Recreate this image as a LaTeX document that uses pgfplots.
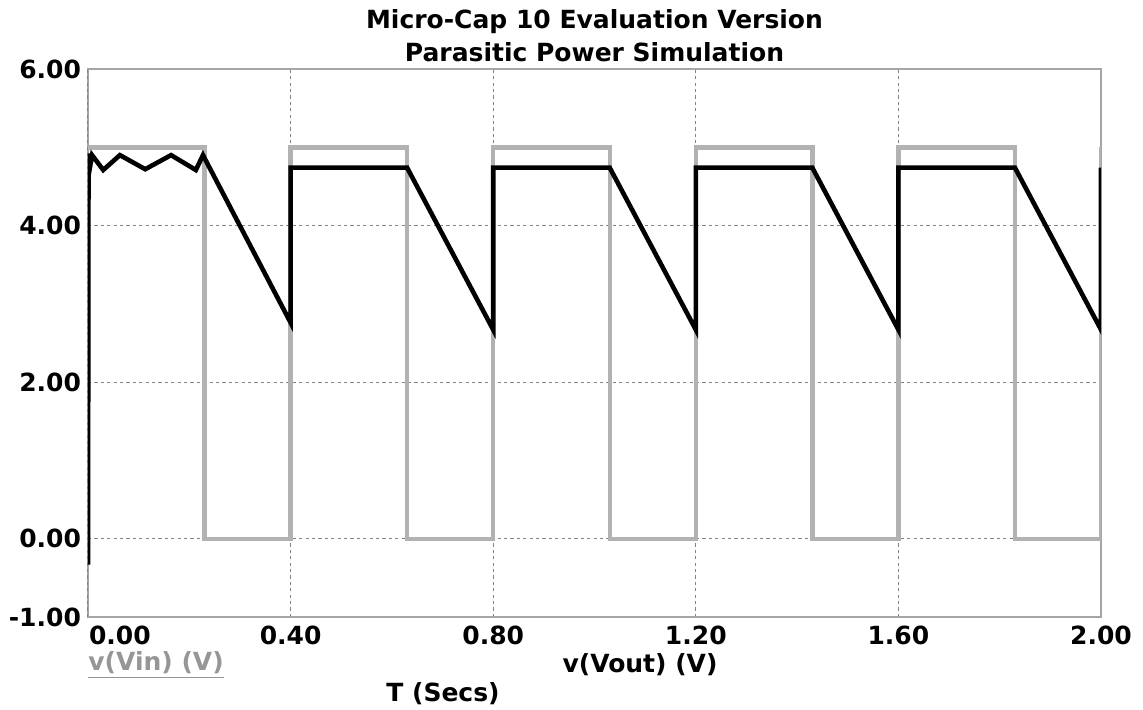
\documentclass[border=0pt]{standalone}
\usepackage{pgfplots}
\pgfplotsset{compat=1.18}
\usepackage{fontspec}
\setmainfont{DejaVu Sans}
\definecolor{vingray}{RGB}{178,178,178}
\definecolor{labgray}{RGB}{150,150,150}
\definecolor{gridgray}{RGB}{130,130,130}
\definecolor{boxgray}{RGB}{165,165,165}
\newcommand{\lblfont}{\fontsize{12.5}{14}\selectfont\bfseries}
\begin{document}
\begin{tikzpicture}
\begin{axis}[
  at={(0,0)}, anchor=south west,
  scale only axis,
  width=506.5pt, height=274pt,
  xmin=0, xmax=2, ymin=-1, ymax=6,
  xtick={0.4,0.8,1.2,1.6,2.0},
  extra x ticks={0},
  extra x tick style={xticklabel style={anchor=north west, xshift=-3pt}},
  ytick={-1,0,2,4,6},
  major tick length=0pt,
  axis line style={boxgray, line width=0.8pt},
  grid=major,
  major grid style={gridgray, dash pattern=on 1.6pt off 1.6pt, line width=0.5pt},
  tick label style={font=\lblfont},
  xticklabel style={yshift=-1pt},
  /pgf/number format/.cd, fixed, fixed zerofill, precision=2, assume math mode=true,
]
% input square wave
\addplot[vingray, line width=2.2pt, line join=miter] coordinates {
  (0,5) (0.23,5) (0.23,0) (0.4,0) (0.4,5) (0.63,5) (0.63,0) (0.8,0)
  (0.8,5) (1.03,5) (1.03,0) (1.2,0) (1.2,5) (1.43,5) (1.43,0) (1.6,0)
  (1.6,5) (1.83,5) (1.83,0) (2.0,0) (2.0,5)
};
% output voltage
\addplot[black, line width=2.3pt, line join=miter] coordinates {
  (0,-0.33) (0.001,4.92) (0.004,4.75) (0.008,4.90) (0.03,4.71)
  (0.063,4.90) (0.113,4.72) (0.164,4.90) (0.213,4.71) (0.227,4.90)
  (0.40,2.76) (0.40,4.74) (0.63,4.74) (0.80,2.67) (0.80,4.74)
  (1.03,4.74) (1.20,2.67) (1.20,4.74) (1.43,4.74) (1.60,2.67)
  (1.60,4.74) (1.83,4.74) (2.0,2.67) (2.0,4.74)
};
\end{axis}
\node[font=\lblfont] at (253.25pt,297.5pt) {Micro-Cap 10 Evaluation Version};
\node[font=\lblfont] at (253.25pt,282.5pt) {Parasitic Power Simulation};
\node[font=\lblfont, text=labgray, anchor=west, inner sep=0pt] at (0pt,-24pt) {\underline{v(Vin) (V)}};
\node[font=\lblfont] at (276pt,-24pt) {v(Vout) (V)};
\node[font=\lblfont] at (177.5pt,-38.5pt) {T (Secs)};
\pgfresetboundingbox
\path[use as bounding box] (-44pt,-46pt) rectangle (527.5pt,308.5pt);
\end{tikzpicture}
\end{document}
